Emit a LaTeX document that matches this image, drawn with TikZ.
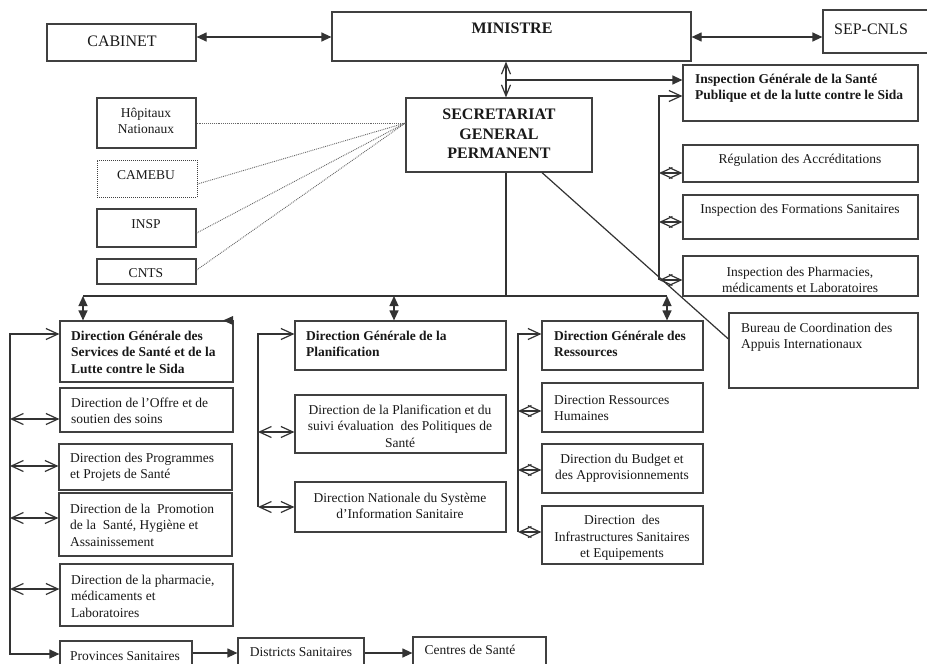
\documentclass[tikz,border=0pt]{standalone}
\usepackage{fontspec}
\setmainfont{Liberation Serif}
\usetikzlibrary{arrows.meta,fit}
\tikzset{
  box/.style={draw=black!75, line width=1.2pt, inner sep=0pt},
  dotbox/.style={draw=black!75, densely dotted, line width=1pt, inner sep=0pt},
  t/.style={inner sep=0pt, align=center, text=black!90, font=\fontsize{13.5}{16.5}\selectfont},
  tl/.style={t, align=left},
  tb/.style={tl, font=\fontsize{13.5}{16.5}\selectfont\bfseries},
  big/.style={inner sep=0pt, align=center, text=black!90, font=\fontsize{16}{19.5}\selectfont},
  bigb/.style={big, font=\fontsize{16}{19.5}\selectfont\bfseries},
  ln/.style={draw=black!80, line width=1.2pt},
  fa/.style={ln, -{Triangle[length=10pt,width=9pt]}},
  dfa/.style={ln, {Triangle[length=10pt,width=9pt]}-{Triangle[length=10pt,width=9pt]}},
  oa/.style={ln, -{Straight Barb[length=12pt,width=11pt]}},
  doa/.style={ln, {Straight Barb[length=12pt,width=11pt]}-{Straight Barb[length=12pt,width=11pt]}},
  dsa/.style={ln, {Straight Barb[length=11pt,width=9pt]}-{Straight Barb[length=11pt,width=9pt]}},
  spineof/.style={ln, {Straight Barb[length=12pt,width=11pt]}-},
  dots/.style={draw=black!60, densely dotted, line width=0.9pt},
}
\begin{document}
\begin{tikzpicture}[x=1pt,y=-1pt]
\useasboundingbox[fill=white] (0,0) rectangle (927,664);

% ---------- boxes ----------
\node[box, fit={(47,24) (196,61)}] (cab) {};
\node[box, fit={(332,12) (691,61)}] (min) {};
\node[box, fit={(823,10) (940,53)}] (sep) {};
\node[box, fit={(97,98) (196,148)}] (hop) {};
\node[dotbox, fit={(97,160) (197,197)}] (cam) {};
\node[box, fit={(97,209) (196,247)}] (insp) {};
\node[box, fit={(97,259) (196,284)}] (cnts) {};
\node[box, fit={(406,98) (592,172)}] (sg) {};
\node[box, fit={(683,65) (918,121)}] (igs) {};
\node[box, fit={(683,145) (918,182)}] (reg) {};
\node[box, fit={(683,195) (918,239)}] (ifs) {};
\node[box, fit={(683,256) (918,296)}] (iph) {};
\node[box, fit={(729,313) (918,388)}] (bur) {};
\node[box, fit={(60,321) (233,382)}] (dgs) {};
\node[box, fit={(60,388) (233,432)}] (offre) {};
\node[box, fit={(59,444) (232,490)}] (prog) {};
\node[box, fit={(59,493) (232,556)}] (promo) {};
\node[box, fit={(60,564) (233,626)}] (pharm) {};
\node[box, fit={(60,641) (192,680)}] (prov) {};
\node[box, fit={(238,638) (364,680)}] (dist) {};
\node[box, fit={(413,637) (546,680)}] (cent) {};
\node[box, fit={(295,321) (506,370)}] (dgp) {};
\node[box, fit={(295,395) (506,453)}] (dplan) {};
\node[box, fit={(295,482) (506,532)}] (dnsis) {};
\node[box, fit={(542,321) (703,370)}] (dgr) {};
\node[box, fit={(542,383) (703,432)}] (drh) {};
\node[box, fit={(542,444) (703,493)}] (dbud) {};
\node[box, fit={(542,506) (703,564)}] (dinf) {};

% ---------- texts ----------
\node[big] (cabt) at (122,41) {CABINET};
\node[bigb] (mint) at (512,28) {MINISTRE};
\node[big] (sept) at (871,29) {SEP-CNLS};
\node[t] (hopt) at (146,121) {Hôpitaux\\Nationaux};
\node[t] (camt) at (146,175) {CAMEBU};
\node[t] (inspt) at (146,224) {INSP};
\node[t] (cntst) at (146,273) {CNTS};
\node[bigb] (sgt) at (499,134) {SECRETARIAT\\GENERAL\\PERMANENT};
\node[tb, anchor=west] (igst) at (695,88) {Inspection Générale de la Santé\\Publique et de la lutte contre le Sida};
\node[t] (regt) at (800,160) {Régulation des Accréditations};
\node[t] (ifst) at (800,210) {Inspection des Formations Sanitaires};
\node[t] (ipht) at (800,280) {Inspection des Pharmacies,\\médicaments et Laboratoires};
\node[tl, anchor=west] (burt) at (741,337) {Bureau de Coordination des\\Appuis Internationaux};
\node[tb, anchor=west] (dgst) at (71,352) {Direction Générale des\\Services de Santé et de la\\Lutte contre le Sida};
\node[tl, anchor=west] (offret) at (71,411) {Direction de l’Offre et de\\soutien des soins};
\node[tl, anchor=west] (progt) at (70,467) {Direction des Programmes\\et Projets de Santé};
\node[tl, anchor=west] (promot) at (70,525) {Direction de la~ Promotion\\de la~ Santé, Hygiène et\\Assainissement};
\node[tl, anchor=west] (pharmt) at (71,596) {Direction de la pharmacie,\\médicaments et\\Laboratoires};
\node[t] (provt) at (125,656) {Provinces Sanitaires};
\node[t] (distt) at (301,652) {Districts Sanitaires};
\node[t] (centt) at (470,650) {Centres de Santé};
\node[tb, anchor=west] (dgpt) at (306,344) {Direction Générale de la\\Planification};
\node[t] (dplant) at (400,426) {Direction de la Planification et du\\suivi évaluation~ des Politiques de\\Santé};
\node[t] (dnsist) at (400,506) {Direction Nationale du Système\\d’Information Sanitaire};
\node[tb, anchor=west] (dgrt) at (554,344) {Direction Générale des\\Ressources};
\node[tl, anchor=west] (drht) at (554,408) {Direction Ressources\\Humaines};
\node[t] (dbudt) at (622,468) {Direction du Budget et\\des Approvisionnements};
\node[t] (dinft) at (622,538) {Direction~ des\\Infrastructures Sanitaires\\et Equipements};

% ---------- top connectors ----------
\draw[dfa] (cab.east |- 0,37) -- (min.west |- 0,37);
\draw[dfa] (min.east |- 0,37) -- (sep.west |- 0,37);
\coordinate (mx) at (506,80);
\draw[dsa] (min.south -| mx) -- (sg.north -| mx);
\draw[fa] (mx) -- (igs.west |- mx);

% dotted links
\coordinate (sgp) at ([yshift=12pt]sg.west);
\draw[dots] (hop.east) -- (sgp);
\draw[dots] (cam.east |- 0,184) -- (sgp);
\draw[dots] (insp.east |- 0,233) -- (sgp);
\draw[dots] (cnts.east |- 0,270) -- (sgp);

% inspection spine
\coordinate (is1) at (659,96);
\coordinate (is2) at (659,280);
\draw[spineof] (igs.west |- is1) -- (is1) -- (is2);
\draw[doa] (is2 |- 0,173) -- (reg.west |- 0,173);
\draw[doa] (is2 |- 0,222) -- (ifs.west |- 0,222);
\draw[doa] (is2) -- (iph.west |- is2);

% SG to bureau
\draw[ln] ([xshift=43pt]sg.south) -- (bur.west |- 0,339);

% bus
\coordinate (bl) at (83,296);
\coordinate (bm) at (394,296);
\coordinate (br) at (667,296);
\draw[ln] (bl) -- (br);
\draw[ln] (sg.south -| mx) -- (mx |- bl);
\draw[dfa] (bl) -- (bl |- dgs.north);
\draw[dfa] (bm) -- (bm |- dgp.north);
\draw[dfa] (br) -- (br |- dgr.north);
\fill[black!80] (233,316) -- (223,320.5) -- (233,325) -- cycle;

% left spine
\coordinate (l1) at (10,334);
\coordinate (l2) at (10,654);
\draw[ln, {Straight Barb[length=12pt,width=11pt]}-{Triangle[length=10pt,width=9pt]}] (dgs.west |- l1) -- (l1) -- (l2) -- (prov.west |- l2);
\draw[doa] (l1 |- 0,419) -- (offre.west |- 0,419);
\draw[doa] (l1 |- 0,466) -- (prog.west |- 0,466);
\draw[doa] (l1 |- 0,518) -- (promo.west |- 0,518);
\draw[doa] (l1 |- 0,589) -- (pharm.west |- 0,589);
\draw[fa] (prov.east |- 0,653) -- (dist.west |- 0,653);
\draw[fa] (dist.east |- 0,653) -- (cent.west |- 0,653);

% planification spine
\coordinate (p1) at (258,334);
\coordinate (p2) at (258,507);
\draw[spineof] (dgp.west |- p1) -- (p1) -- (p2);
\draw[doa] (p1 |- 0,432) -- (dplan.west |- 0,432);
\draw[doa] (p2) -- (dnsis.west |- p2);

% ressources spine
\coordinate (r1) at (518,334);
\coordinate (r2) at (518,532);
\draw[spineof] (dgr.west |- r1) -- (r1) -- (r2);
\draw[doa] (r1 |- 0,411) -- (drh.west |- 0,411);
\draw[doa] (r1 |- 0,470) -- (dbud.west |- 0,470);
\draw[doa] (r2) -- (dinf.west |- r2);
\end{tikzpicture}
\end{document}
